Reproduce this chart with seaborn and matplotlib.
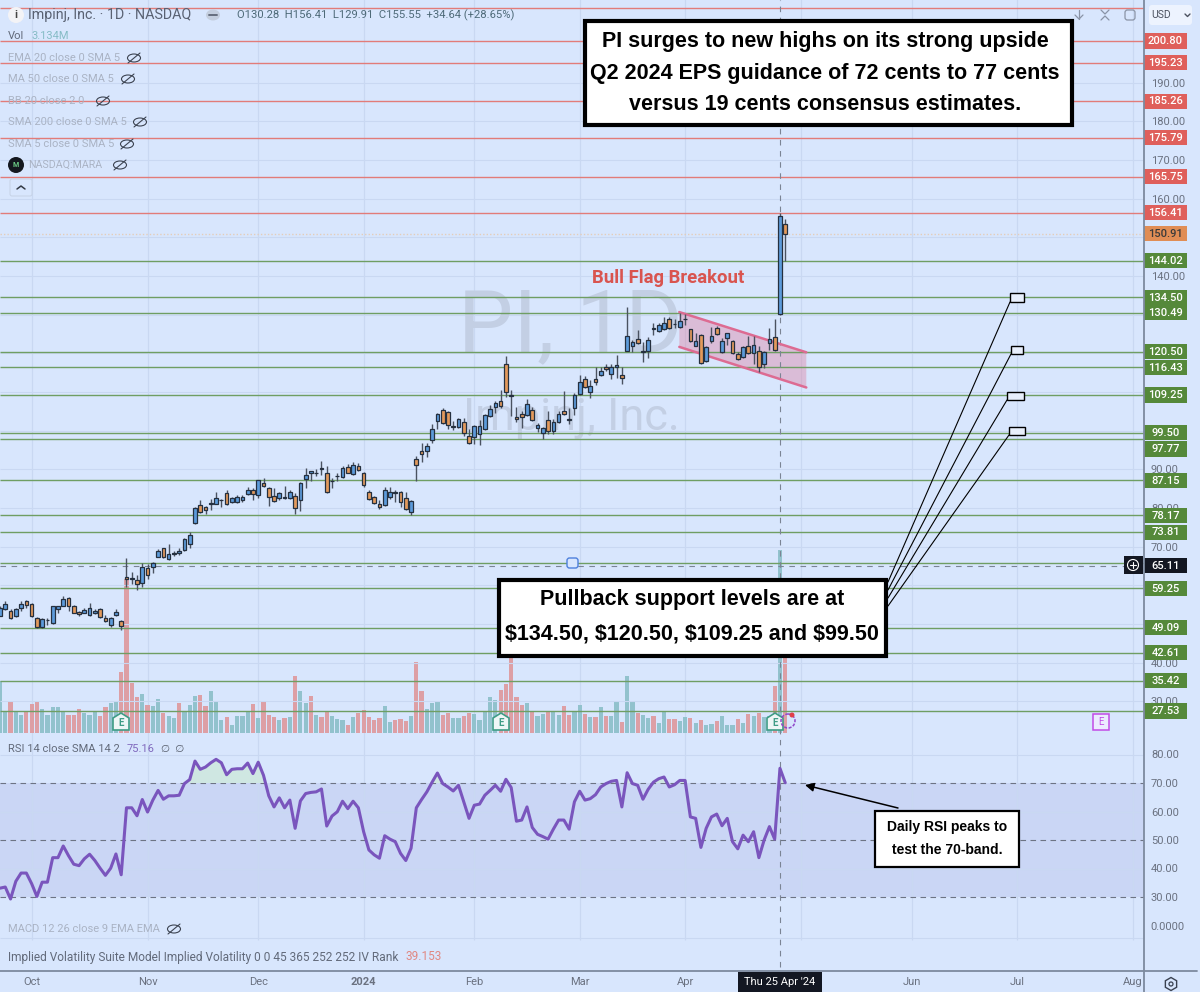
import numpy as np
import pandas as pd
import matplotlib
matplotlib.use('Agg')
import matplotlib.pyplot as plt
import seaborn as sns
from matplotlib.lines import Line2D
from matplotlib.patches import Rectangle, Circle, Ellipse, Polygon, FancyBboxPatch, FancyArrowPatch, RegularPolygon
from matplotlib.transforms import Affine2D, blended_transform_factory

# daily bars, Oct 2023 to 26 Apr 2024
opens = [52.1,53.9,53.5,52.1,54.1,56.0,55.3,51.7,49.2,51.1,
         50.3,53.8,54.8,56.8,54.8,53.1,53.0,52.3,52.8,53.9,
         51.6,49.7,52.3,50.9,62.2,61.8,61.3,60.7,64.4,64.8,
         67.4,69.6,66.9,68.2,68.5,69.2,70.6,76.2,80.9,80.3,
         81.0,81.1,82.0,84.0,81.6,81.6,82.2,83.7,84.7,83.5,
         86.6,85.1,83.2,82.5,83.0,82.5,83.2,82.0,87.6,89.1,
         89.0,90.0,89.1,87.0,88.2,88.1,90.7,88.8,90.9,89.2,
         84.2,82.8,81.0,80.9,83.0,84.0,84.1,82.5,79.1,92.7,
         94.8,94.9,97.6,102.5,105.4,104.9,101.1,101.1,102.2,98.6,
         98.3,99.1,100.4,103.9,106.1,107.6,117.4,109.2,103.6,104.3,
         104.0,105.3,100.6,99.5,102.8,100.0,102.3,105.0,102.9,106.0,
         109.5,113.3,110.1,113.3,114.4,116.6,114.6,116.5,114.3,120.7,
         121.8,123.8,120.6,120.7,126.7,125.9,126.4,129.0,127.6,126.8,
         128.9,126.2,122.0,124.8,118.1,123.3,126.5,120.4,124.1,123.2,
         119.9,119.2,122.0,120.0,120.6,117.4,122.7,124.2,130.28,153.5]
highs = [54.7,56.1,53.8,54.2,56.0,56.2,55.5,51.9,51.5,51.7,
         54.8,54.8,57.3,57.1,54.9,53.3,54.1,55.4,53.8,54.1,
         52.3,51.9,54.0,51.2,67.0,63.5,62.7,65.7,65.5,66.0,
         69.4,69.8,70.6,68.8,69.8,72.2,73.9,80.2,82.1,80.5,
         82.3,84.2,82.3,84.7,83.0,83.4,83.4,85.5,85.1,87.4,
         87.7,85.5,85.1,84.2,85.8,84.7,83.8,86.8,90.4,89.7,
         90.1,92.3,91.0,87.7,89.2,90.9,91.3,91.9,91.7,89.4,
         84.7,83.1,82.1,85.5,85.5,84.7,84.5,84.2,82.1,93.5,
         96.8,96.8,101.7,104.7,105.9,105.0,102.6,103.2,103.4,100.4,
         101.5,102.8,104.3,106.7,107.7,110.6,119.3,110.6,106.2,105.0,
         108.1,106.2,101.9,101.1,105.0,103.0,105.0,110.3,105.8,109.7,
         114.4,114.2,113.1,116.4,116.4,117.3,117.3,119.5,116.4,132.1,
         123.6,126.1,123.0,124.2,128.0,128.0,129.3,129.3,128.8,130.4,
         130.2,126.3,125.2,125.0,121.9,126.8,127.1,124.1,125.4,123.5,
         120.5,121.8,124.6,124.6,121.8,120.6,126.5,128.8,156.41,154.8]
lows = [52.1,53.6,51.3,51.9,53.5,54.1,51.9,49.1,49.1,49.9,
        50.1,52.8,54.7,53.3,52.8,52.2,52.9,52.2,52.6,51.6,
        50.5,49.3,52.2,48.6,59.7,60.3,58.8,59.7,61.6,63.1,
        67.3,67.2,66.7,67.6,67.9,69.0,69.8,76.0,78.8,78.5,
        79.5,81.0,80.4,80.8,81.2,81.4,81.6,83.5,82.1,82.5,
        85.4,80.6,81.6,82.1,82.3,82.3,78.5,79.2,85.1,87.1,
        88.3,88.5,84.0,85.1,87.1,87.9,89.0,88.6,89.6,85.5,
        82.1,81.0,79.8,80.6,82.3,81.6,80.2,79.5,78.2,87.0,
        92.0,93.3,96.9,100.5,101.8,100.4,100.2,100.6,98.6,96.7,
        96.7,96.2,100.2,103.5,104.5,105.8,108.7,103.8,102.3,100.6,
        103.8,102.5,99.8,97.9,99.3,99.3,102.1,104.2,101.8,104.1,
        109.2,111.1,108.5,111.8,114.2,115.5,113.3,113.6,112.1,120.6,
        120.4,122.4,117.7,118.7,124.8,125.6,126.1,126.2,126.5,126.6,
        127.4,123.0,121.8,117.2,117.9,122.6,124.9,120.2,122.2,119.8,
        118.3,118.9,119.8,117.3,115.1,116.3,120.9,120.6,129.91,144.0]
closes = [54.1,55.1,51.6,53.9,55.2,55.0,52.2,49.2,51.3,51.2,
          54.6,54.6,56.5,54.6,52.9,52.6,53.6,54.2,53.4,51.9,
          50.7,51.6,53.2,49.5,61.7,62.0,60.5,64.7,62.6,65.7,
          69.0,67.4,68.2,68.3,69.0,71.9,73.0,80.0,79.0,79.5,
          81.2,82.5,82.2,81.0,82.5,82.8,82.9,84.8,83.7,87.2,
          85.6,83.0,81.9,84.0,82.5,84.1,80.1,86.5,88.6,89.5,
          89.1,90.5,84.2,87.1,88.3,90.3,89.2,91.1,89.8,86.0,
          82.4,81.2,80.4,84.8,84.2,84.1,81.7,79.8,81.8,91.2,
          94.0,96.1,100.5,104.3,101.9,101.5,101.2,103.0,99.5,96.9,
          101.2,101.2,104.0,105.6,107.2,106.3,110.1,109.0,103.0,103.5,
          106.8,102.7,101.5,100.8,100.0,102.3,104.3,104.3,103.0,109.3,
          112.7,111.3,111.6,112.7,115.4,115.9,116.6,116.9,113.6,124.5,
          123.0,122.6,120.5,123.6,126.2,127.4,128.0,126.6,127.7,128.5,
          128.8,123.3,123.2,117.6,121.6,124.6,125.1,123.2,125.2,120.0,
          118.5,121.6,120.0,122.2,116.4,120.5,123.8,120.91,155.55,150.91]

# volume in millions, t = teal bar, r = red bar
volumes = [1.48,.64,.92,.62,.52,.64,.83,.90,.68,.52,
           .73,.73,.62,.52,.52,.70,.56,.52,.62,.50,
           .73,.86,.90,1.75,4.41,1.42,1.02,1.11,.80,.77,
           .96,.57,.50,.43,.86,.64,.80,1.06,1.09,.76,
           1.21,.90,.37,.47,.23,.50,.48,.59,.83,.43,
           .88,.52,.47,.37,.42,.45,1.62,1.19,.85,1.07,
           .52,.47,.64,.50,.40,.37,.24,.47,.57,.65,
           .45,.37,.42,.76,.32,.37,.39,.35,.48,2.04,
           1.21,.69,.85,.92,.52,.57,.42,.42,.50,.57,
           .54,.38,.59,1.02,.95,1.24,1.40,3.2,1.04,.81,
           .86,.62,.50,.54,.64,.64,.52,.78,.52,.64,
           .80,.54,.45,.47,.75,.50,.50,.90,.32,1.62,
           .90,.56,.51,.42,.50,.28,.62,.40,.40,.33,
           .47,.42,.30,.37,.24,.26,.35,.50,.24,.24,
           .40,.30,.54,.50,.56,.47,.50,1.35,5.23,3.134]
volume_dir = list('ttrttrrrtt' 'tttrrrtttr' 'rttrrrrtrt' 'trttrtttrr' 'tttrttttrt'
                  'rrrtrtrttr' 'trrtttrtrr' 'rrrttrrrtr' 'rtttrrttrr' 'tttttrrrrr'
                  'trttrttrrt' 'trtrtrttrt' 'trttrttrrt' 'trtrttrttt' 'rtrtrttrtr')

rsi = [33.1,33.5,29.3,35.5,38.4,38.4,34.7,30.2,35.2,35.2,
       43.8,43.8,47.9,44.5,41.5,41.0,43.4,45.0,42.8,40.1,
       37.6,40.1,45.1,37.8,61.3,61.3,58.5,64.2,59.8,64.0,
       67.4,64.3,65.5,65.5,65.7,69.8,71.2,77.7,74.8,75.6,
       77.1,78.3,77.1,72.9,74.8,75.0,75.0,77.0,73.3,77.3,
       72.7,65.5,61.6,64.8,61.3,64.0,54.1,63.7,66.3,66.7,
       66.9,67.9,54.9,58.4,59.9,63.6,61.0,63.6,61.3,52.9,
       46.5,44.8,43.6,51.5,50.3,49.4,45.3,42.8,47.1,61.3,
       64.2,66.9,70.3,73.5,69.8,68.6,67.2,69.2,63.4,57.6,
       62.2,62.6,65.7,67.4,69.2,67.1,71.3,68.4,56.6,57.0,
       61.6,54.4,52.0,51.2,50.3,53.8,57.0,57.0,53.8,63.4,
       67.1,64.0,64.5,65.9,68.6,69.8,70.6,70.9,61.6,73.6,
       69.8,69.2,64.3,67.8,70.3,71.5,72.1,68.6,69.4,70.9,
       70.9,58.1,57.6,47.4,54.1,58.1,59.1,55.0,57.6,49.4,
       46.9,51.7,49.4,52.9,43.8,50.0,54.7,50.3,75.16,70.1]

red_levels = [200.80, 195.23, 185.26, 175.79, 165.75, 156.41]
green_levels = [144.02, 134.50, 130.49, 120.50, 116.43, 109.25, 99.50, 97.77, 87.15,
                78.17, 73.81, 59.25, 49.09, 42.61, 35.42, 27.53]
unlabelled_red = [209.3]
unlabelled_green = [65.9]
last_price = 150.91
cursor_price = 65.11
grid_prices = [30, 40, 50, 60, 70, 80, 90, 100, 110, 120, 130, 140, 150, 160, 170, 180, 190]
price_ticks = [30, 40, 70, 80, 90, 140, 160, 170, 180, 190]
rsi_ticks = [30, 40, 50, 60, 70, 80]
month_ticks = [6, 28, 49, 69, 90, 110, 130, 173, 193, 215]
month_labels = ['Oct', 'Nov', 'Dec', '2024', 'Feb', 'Mar', 'Apr', 'Jun', 'Jul', 'Aug']
hidden_month = 152
cursor_day = 148

# bull flag channel
flag_days = [128.9, 153.0, 153.0, 128.9]
flag_prices = [130.7, 120.3, 111.2, 121.7]

W, H = 1200, 992
BG = '#d8e6fd'
GRID = '#c9d8f2'
TICK = '#6a7180'
FADED = '#aab3c4'
UP, DOWN = '#5c9bdb', '#e39a5c'
RED_LINE, GREEN_LINE = '#e27c79', '#6f9e63'
RED_TAG, GREEN_TAG = '#df5f5b', '#55893a'
EDGE = '#25303f'

sns.set_theme(style='white', rc={'axes.facecolor': BG, 'figure.facecolor': BG})
plt.rcParams['font.family'] = ['Roboto', 'DejaVu Sans']

days = np.arange(len(opens))
o, h, l, c = map(np.array, (opens, highs, lows, closes))
all_months = month_ticks + [hidden_month]

fig = plt.figure(figsize=(W / 100, H / 100), dpi=100)
px = Affine2D().scale(1, -1).translate(0, H)  # overlay positions, pixels from top left

vol_ax = fig.add_axes([0, 1 - 745 / H, 1144 / W, 745 / H], zorder=1)
ax = fig.add_axes([0, 1 - 745 / H, 1144 / W, 745 / H], zorder=2)
ax2 = fig.add_axes([0, 1 - 971 / H, 1144 / W, 226 / H], zorder=2)
ax.patch.set_visible(False)
x_max = 1144 / 5.27

# volume
vol_df = pd.DataFrame({'day': days, 'volume': volumes, 'dir': volume_dir})
sns.barplot(data=vol_df, x='day', y='volume', hue='dir', palette={'t': '#92c2cd', 'r': '#dd9fa5'},
            dodge=False, native_scale=True, width=0.8, saturation=1, legend=False, linewidth=0, ax=vol_ax)
vol_ax.set_xlim(0, x_max)
vol_ax.set_ylim(-12 / 35, 733 / 35)
vol_ax.set_xlabel('')
vol_ax.set_ylabel('')
vol_ax.set_yticks([])
vol_ax.set_xticks([])
vol_ax.vlines(all_months, -1, 30, color=GRID, lw=0.9, zorder=0)
for s in vol_ax.spines.values():
    s.set_visible(False)

# price pane
ax.set_xlim(0, x_max)
ax.set_ylim(200.8 - 704 / 3.867, 200.8 + 41 / 3.867)
ax.hlines(grid_prices, 0, x_max, color=GRID, lw=0.8, zorder=0.2)
ax.text(570, 327, 'PI, 1D', transform=px, fontsize=63, color='#c3cfe4', ha='center', va='center', zorder=0.5)
ax.text(571, 418, 'Impinj, Inc.', transform=px, fontsize=32.5, color='#c3cfe4', ha='center', va='center', zorder=0.5)

ax.fill(flag_days, flag_prices, color='#de7f9f', alpha=0.4, lw=0, zorder=1)
ax.hlines(red_levels + unlabelled_red, 0, x_max, color=RED_LINE, lw=1.0, zorder=1.5)
ax.hlines(green_levels + unlabelled_green, 0, x_max, color=GREEN_LINE, lw=1.0, zorder=1.5)
ax.hlines(last_price, 0, x_max, color='#e4cdb9', lw=1.0, ls=(0, (1, 1.5)), zorder=1.5)
ax.hlines(cursor_price, 0, x_max, color='#7b8494', lw=0.8, ls=(0, (5, 5)), zorder=1.6)
ax.vlines(cursor_day, ax.get_ylim()[0], ax.get_ylim()[1], color='#7b8494', lw=0.8, ls=(0, (5, 5)), zorder=1.6)
ax.plot(flag_days[:2], flag_prices[:2], color='#dd6b92', lw=1.8, zorder=1.7)
ax.plot(flag_days[3:1:-1], flag_prices[3:1:-1], color='#dd6b92', lw=1.8, zorder=1.7)

# candles
colors = [UP if b >= a else DOWN for a, b in zip(o, c)]
ax.vlines(days, l, h, color='#4a5260', lw=1.0, zorder=3)
ax.bar(days, np.abs(c - o), bottom=np.minimum(o, c), width=0.7, color=colors,
       edgecolor=EDGE, linewidth=0.9, zorder=4)

ax.yaxis.tick_right()
ax.set_yticks(price_ticks, [f'{t:.2f}' for t in price_ticks])
ax.set_xticks([])
ax.tick_params(axis='y', length=0, labelsize=8, labelcolor=TICK, pad=5)
for s in ax.spines.values():
    s.set_visible(False)

# price tags on the right
tag_tf = blended_transform_factory(ax.transAxes, ax.transData)


def price_tag(price, bg, fg='white', at=None):
    y = price if at is None else at
    ax.add_patch(Rectangle((1, y - 1.95), 43 / 1144, 3.9, transform=tag_tf, color=bg, lw=0, clip_on=False, zorder=6))
    ax.text(1165.5 / 1144, y - 0.1, f'{price:.2f}', transform=tag_tf, color=fg, fontsize=8, fontweight='medium',
            ha='center', va='center', clip_on=False, zorder=7)


for p in red_levels:
    price_tag(p, RED_TAG)
price_tag(last_price, '#e08d55', '#3a3a3a')
for p in green_levels:
    price_tag(p, GREEN_TAG, at=95.3 if p == 97.77 else None)
price_tag(cursor_price, '#131722')

# RSI pane
ax2.set_xlim(0, x_max)
ax2.set_ylim(30 - 74 / 2.85, 70 + 38 / 2.85)
ax2.patch.set_visible(False)
ax2.axhspan(30, 70, color='#cad6f5', lw=0, zorder=0.5)
ax2.hlines([15.5, 40, 60, 80], 0, x_max, color=GRID, lw=0.8, zorder=0.6)
ax2.vlines(all_months, 14.9, 84, color=GRID, lw=0.9, zorder=0.7)
ax2.hlines([30, 50, 70], 0, x_max, color='#6d7484', lw=0.8, ls=(0, (5, 4)), zorder=1)
ax2.vlines(cursor_day, 5.5, 84, color='#7b8494', lw=0.8, ls=(0, (5, 5)), zorder=1)
ax2.fill_between(days, 70, rsi, where=np.array(rsi) > 70, interpolate=True, color='#cfe7e2', lw=0, zorder=1.2)
sns.lineplot(x=days, y=rsi, color='#7a55bd', lw=2.2, estimator=None, ax=ax2, zorder=3)
ax2.yaxis.tick_right()
ax2.set_yticks(rsi_ticks, [f'{t:.2f}' for t in rsi_ticks])
ax2.set_xticks(month_ticks, month_labels)
ax2.tick_params(axis='y', length=0, labelsize=8, labelcolor=TICK, pad=5)
ax2.tick_params(axis='x', length=0, labelsize=8, labelcolor=TICK, pad=4)
ax2.get_xticklabels()[3].set_fontweight('bold')
for s in ax2.spines.values():
    s.set_visible(False)


# overlays
def add(artist):
    artist.set_zorder(artist.get_zorder() + 10)
    fig.add_artist(artist)
    return artist


def txt(x, y, s, size=8, color=TICK, ha='left', **kw):
    return fig.text(x, y, s, transform=px, fontsize=size, color=color, ha=ha, va='center', zorder=30, **kw)


def box(x0, y0, x1, y1, lw, fc='white', ec='black', zorder=5):
    add(Rectangle((x0, y0), x1 - x0, y1 - y0, transform=px, fc=fc, ec=ec, lw=lw, zorder=zorder))


def seg(xs, ys, color='black', lw=0.9, zorder=4):
    add(Line2D(xs, ys, transform=px, color=color, lw=lw, zorder=zorder))


def eye(x, y):
    add(Ellipse((x, y), 13, 8, transform=px, fc='none', ec='#3d4452', lw=0.8))
    seg([x - 6, x + 6], [y + 5, y - 5], color='#3d4452', lw=0.8)


seg([1144, 1144], [0, H], color='#7d8a9e', lw=1.3)
seg([0, 1197], [971, 971], color='#7d8a9e', lw=1.3)

# header and indicator legend
add(Circle((16, 15), 8, transform=px, fc='#f3f3f6', ec='none'))
txt(14, 15, 'i', size=8, color='#444444', fontweight='bold')
txt(28, 15, 'Impinj, Inc. · 1D · NASDAQ', size=10.3, color='#596172')
add(Ellipse((213, 15), 14, 11, transform=px, fc='#c4cede', ec='none'))
seg([209, 217], [15, 15], color='#666e7e', lw=1.4)
txt(237, 15, 'O130.28  H156.41  L129.91  C155.55  +34.64 (+28.65%)', size=8.1, color='#4e6a78')
txt(8, 36, 'Vol', size=8, color='#626a7a')
txt(31, 36, '3.134M', size=8, color='#86bcc6')
legend_rows = [(58, 'EMA 20 close 0 SMA 5', 134), (79, 'MA 50 close 0 SMA 5', 128), (101, 'BB 20 close 2 0', 103),
               (122, 'SMA 200 close 0 SMA 5', 140), (144, 'SMA 5 close 0 SMA 5', 127)]
for y, s, ex in legend_rows:
    txt(8, y, s, color=FADED)
    eye(ex, y)
add(Circle((16, 165), 8, transform=px, fc='#14181f', ec='none'))
txt(16, 165, 'M', size=5, color='#6fd28a', ha='center', fontweight='bold')
txt(28, 165, 'NASDAQ:MARA', size=7.7, color=FADED)
eye(120, 165)
add(FancyBboxPatch((10, 179), 22, 17, boxstyle='round,pad=0,rounding_size=2', transform=px, fc=BG, ec='#c6d2e6', lw=0.7))
seg([17, 21, 25], [189, 186, 189], color='#333a45', lw=1.1)

txt(8, 749, 'RSI 14 close SMA 14 2', color='#626a7a')
txt(127, 749, '75.16', color='#7f68bd')
txt(161, 749, '∅  ∅', color='#555c6a', size=7.5)
txt(8, 929, 'MACD 12 26 close 9 EMA EMA', color=FADED)
eye(174, 929)
txt(8, 957, 'Implied Volatility Suite Model Implied Volatility 0 0 45 365 252 252 IV Rank', size=8.6, color='#626a7a')
txt(405, 957, '39.153', size=8.5, color='#e08882')
txt(1150, 927, '0.0000', color=TICK)

# top right controls
add(FancyBboxPatch((1149, 5), 43, 20, boxstyle='round,pad=0,rounding_size=3', transform=px, fc='#edf3fe', ec='none'))
txt(1151, 15, 'USD', size=7.5, color='#4c5260')
seg([1185, 1187.5, 1190], [14, 16.5, 14], color='#4c5260', lw=1)
seg([1079, 1079], [10, 19], color='#8a94a6', lw=0.9)
seg([1075, 1079, 1083], [15, 19, 15], color='#8a94a6', lw=0.9)
seg([1101, 1105, 1109], [10, 14, 10], color='#8a94a6', lw=0.9)
seg([1101, 1105, 1109], [20, 16, 20], color='#8a94a6', lw=0.9)
add(FancyBboxPatch((1125, 10), 10, 10, boxstyle='round,pad=0,rounding_size=2.5', transform=px, fc='none', ec='#8a94a6', lw=0.9))

# cursor bits
box(1124, 556, 1143, 574, 0, fc='#131722', ec='#131722', zorder=7)
add(Circle((1133, 565), 5.5, transform=px, fc='none', ec='white', lw=0.8, zorder=8))
seg([1130, 1136], [565, 565], color='white', lw=0.8, zorder=8)
seg([1133, 1133], [562, 568], color='white', lw=0.8, zorder=8)
add(FancyBboxPatch((567, 558), 11, 10, boxstyle='round,pad=0,rounding_size=2.5', transform=px, fc=BG, ec='#4d80dc', lw=1))
box(738, 972, 822, 992, 0, fc='#131722', ec='#131722', zorder=7)
txt(780, 982, "Thu 25 Apr '24", size=8, color='white', ha='center')

# earnings markers
for ex in [121, 501, 775]:
    add(Polygon([(ex - 8, 730), (ex + 8, 730), (ex + 8, 718), (ex, 713), (ex - 8, 718)], transform=px,
                fc='#eef6f6', ec='#3f9c86', lw=1.2, zorder=5))
    txt(ex, 723, 'E', size=7, color='#3f9c86', ha='center', fontweight='bold')
add(Circle((788, 721), 7, transform=px, fc='none', ec='#8f46c9', lw=1.1, ls=(0, (2, 1)), zorder=5))
add(Circle((792, 715), 2.5, transform=px, fc='#e0404a', ec='none', zorder=6))
box(1093, 714, 1109, 730, 1.1, fc='#ecebff', ec='#c24ce6')
txt(1101, 722, 'E', size=7, color='#c24ce6', ha='center')
add(RegularPolygon((1171, 984), 6, radius=6.5, transform=px, fc='none', ec='#3a4150', lw=1))
add(Circle((1171, 984), 2, transform=px, fc='none', ec='#3a4150', lw=0.9))

# annotation boxes
HEAD = ['Liberation Sans']
box(585, 21, 1072, 125, 3)
for y, s in [(42, 'PI surges to new highs on its strong upside'),
             (73, 'Q2 2024 EPS guidance of 72 cents to 77 cents'),
             (104, 'versus 19 cents consensus estimates.')]:
    txt(825, y, s, size=15.5, color='black', ha='center', fontweight='bold', family=HEAD)

box(499, 580, 886, 656, 3)
for y, s in [(600, 'Pullback support levels are at'), (634, r'\$134.50, \$120.50, \$109.25 and \$99.50')]:
    txt(692, y, s, size=15.5, color='black', ha='center', fontweight='bold', family=HEAD)

box(875, 811, 1019, 867, 1.6)
for y, s in [(827, 'Daily RSI peaks to'), (850, 'test the 70-band.')]:
    txt(947, y, s, size=10, color='black', ha='center', fontweight='bold', family=HEAD)

txt(592, 278, 'Bull Flag Breakout', size=13.3, color='#d9544f', fontweight='bold')

# leader lines to the support levels
for (x0, y0), (x1, y1, x2, y2) in [((888, 582), (1010, 293, 1024, 302)), ((888, 590), (1011, 346, 1023, 354)),
                                   ((888, 598), (1007, 392, 1024, 400)), ((888, 606), (1009, 427, 1025, 435))]:
    seg([x0, x1], [y0, y2], lw=0.8)
    box(x1, y1, x2, y2, 1.0, fc='#e8effc')

add(FancyArrowPatch((898, 808), (805, 785), transform=px, arrowstyle='-|>', mutation_scale=13, color='black', lw=1.1, shrinkA=0, shrinkB=0))

fig.savefig('out.png', dpi=100, facecolor=BG)
